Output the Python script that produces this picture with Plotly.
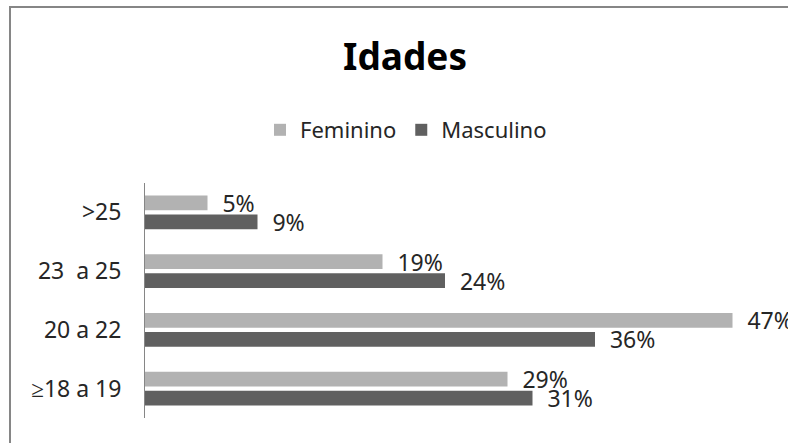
import plotly.graph_objects as go

categories = ["≥18 a 19", "20 a 22", "23  a 25", ">25"]
feminino = [29, 47, 19, 5]
masculino = [31, 36, 24, 9]

FONT = "Noto Sans"
TXT = "#262626"

fig = go.Figure()
fig.add_trace(go.Bar(
    y=categories, x=masculino, orientation="h", name="Masculino",
    marker=dict(color="#606060", line=dict(width=0)),
    texttemplate="\u00a0\u00a0%{x}%", textposition="outside",
    textfont=dict(family=FONT, size=23, color=TXT),
    constraintext="none", cliponaxis=False,
))
fig.add_trace(go.Bar(
    y=categories, x=feminino, orientation="h", name="Feminino",
    marker=dict(color="#B2B2B2", line=dict(width=0)),
    texttemplate="\u00a0\u00a0%{x}%", textposition="outside",
    textfont=dict(family=FONT, size=23, color=TXT),
    constraintext="none", cliponaxis=False,
))

L, T, B = 145, 183, 25
W, H = 788, 443
pw = 625
R = W - L - pw
ph = H - T - B

def px_x(x):
    return (x - L) / pw

def px_y(y):
    return (H - B - y) / ph

fig.update_layout(
    width=W, height=H,
    margin=dict(l=L, r=R, t=T, b=B),
    paper_bgcolor="white", plot_bgcolor="white",
    barmode="group", bargap=0.35, bargroupgap=0.22,
    title=dict(text="<b>Idades</b>", x=405 / W, xanchor="center", y=1 - 57 / H, yanchor="middle",
               font=dict(family=FONT, size=37, color="black")),
    legend=dict(orientation="h", traceorder="reversed", x=px_x(406), xanchor="center",
                y=px_y(130), yanchor="middle", font=dict(family=FONT, size=22, color=TXT),
                itemclick=False, bgcolor="rgba(0,0,0,0)"),
    xaxis=dict(range=[0, 50], visible=False, showgrid=False, zeroline=False),
    yaxis=dict(showgrid=False, zeroline=False, showline=True, linecolor="#868686", linewidth=1,
               ticks="", ticklabelstandoff=18,
               tickfont=dict(family=FONT, size=23, color=TXT)),
    shapes=[dict(type="rect", xref="paper", yref="paper",
                 x0=px_x(10), x1=px_x(830), y0=px_y(480), y1=px_y(7),
                 line=dict(color="#868686", width=2), fillcolor="rgba(0,0,0,0)", layer="below")],
    showlegend=True,
)

fig.write_html("out.html", config={"displayModeBar": False},
               post_script="document.body.style.margin='0';document.body.style.overflow='hidden';")
